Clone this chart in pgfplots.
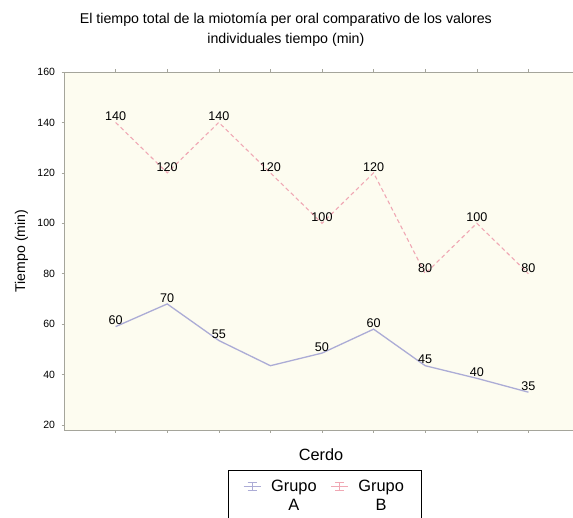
\documentclass[border=0pt]{standalone}
\usepackage{fontspec}
\setmainfont{Liberation Sans}
\usepackage{pgfplots}
\pgfplotsset{compat=1.18}
\definecolor{bgc}{RGB}{253,252,240}
\definecolor{colA}{RGB}{172,172,214}
\definecolor{colB}{RGB}{240,168,180}
\definecolor{axc}{RGB}{165,165,155}
\begin{document}
\begin{tikzpicture}[x=1pt,y=1pt]
\useasboundingbox (0,0) rectangle (573,517);
\clip (0,0) rectangle (573,517);
\begin{axis}[
 at={(64pt,87pt)}, anchor=south west,
 scale only axis, width=516pt, height=358pt,
 xmin=0, xmax=10, ymin=18, ymax=160,
 xtick={1,...,9}, xticklabels={},
 ytick={20,40,...,160},
 axis background/.style={fill=bgc},
 axis line style={axc, line width=0.8pt},
 tick style={axc, line width=0.6pt},
 major tick length=2.5pt,
 tick align=outside,
 /pgf/number format/assume math mode=true,
 yticklabel style={font=\fontsize{10.5}{12}\selectfont, xshift=-3pt},
 title={El tiempo total de la miotomía per oral comparativo de los valores\\individuales tiempo (min)},
 title style={at={(axis description cs:0.43,1.1005)}, anchor=center, align=center, font=\fontsize{14.2}{20}\selectfont},
 xlabel={Cerdo},
 xlabel style={at={(axis description cs:0.498,-0.07)}, anchor=center, font=\fontsize{16.3}{18}\selectfont},
 ylabel={Tiempo (min)},
 ylabel style={at={(axis description cs:-0.0824,0.5)}, anchor=center, font=\fontsize{14.1}{16}\selectfont},
 legend columns=2,
 legend style={at={(axis description cs:0.3178,-0.1117)}, anchor=north west,
   draw=black, line width=0.8pt, fill=white,
   font=\fontsize{16.4}{18.5}\selectfont,
   cells={align=center, anchor=center},
   inner xsep=15pt, inner ysep=8pt, column sep=8pt},
 /tikz/every even column/.append style={column sep=12pt},
 nodes near coords,
 point meta=explicit symbolic,
 nodes near coords style={font=\fontsize{12.6}{14}\selectfont, black, inner sep=1pt, anchor=south},
]
\addplot[colA, line width=1.3pt, mark=none,
  legend image code/.code={
    \draw[colA, solid, line width=0.7pt] (0pt,10pt)--(17pt,10pt);
    \draw[colA, solid, line width=0.7pt] (8.5pt,6pt)--(8.5pt,14pt);
    \draw[colA, solid, line width=0.7pt] (4pt,14pt)--(13pt,14pt);
    \draw[colA, solid, line width=0.7pt] (4pt,6pt)--(13pt,6pt);
  }] table[meta=l] {
x y l
1 59 60
2 68 70
3 53.5 55
4 43.5 {}
5 48.5 50
6 58 60
7 43.5 45
8 38.5 40
9 33 35
};
\addlegendentry{Grupo\\A}
\addplot[colB, line width=1.1pt, dash pattern=on 4pt off 3pt, mark=none,
  legend image code/.code={
    \draw[colB, solid, line width=0.7pt] (0pt,10pt)--(17pt,10pt);
    \draw[colB, solid, line width=0.7pt] (8.5pt,6pt)--(8.5pt,14pt);
    \draw[colB, solid, line width=0.7pt] (4pt,14pt)--(13pt,14pt);
    \draw[colB, solid, line width=0.7pt] (4pt,6pt)--(13pt,6pt);
  }] table[meta=l] {
x y l
1 140 140
2 120 120
3 140 140
4 120 120
5 100 100
6 120 120
7 80 80
8 100 100
9 80 80
};
\addlegendentry{Grupo\\B}
\end{axis}
\end{tikzpicture}
\end{document}
